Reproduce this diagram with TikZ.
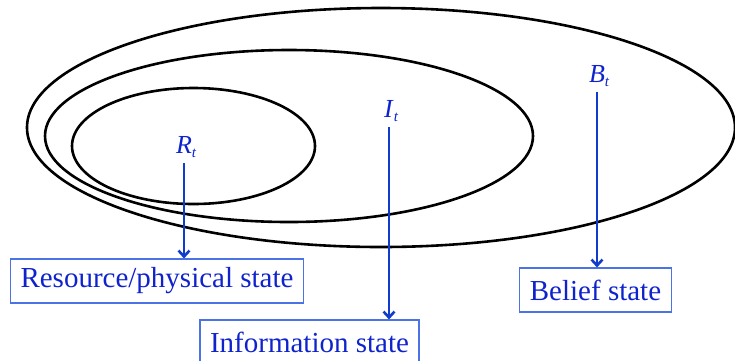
\documentclass[tikz,border=0pt]{standalone}
\usepackage{fontspec}
\setmainfont{Liberation Serif}
\usetikzlibrary{arrows.meta}
\definecolor{txtblue}{RGB}{15,35,205}
\definecolor{arrblue}{RGB}{15,60,205}
\definecolor{boxblue}{RGB}{75,115,230}
\newcommand{\statesym}[1]{\textit{#1}\rlap{\raisebox{-0.35ex}{\fontsize{15}{15}\selectfont\textit{t}}}}
\tikzset{
	setline/.style={line width=2.6pt},
	symlbl/.style={text=txtblue,font=\fontsize{26}{30}\selectfont,inner sep=2pt,outer sep=4pt,anchor=base},
	statebox/.style={draw=boxblue,line width=1.1pt,text=txtblue,font=\fontsize{29}{34}\selectfont,minimum height=44pt,inner xsep=10pt,inner ysep=0pt},
	statearrow/.style={draw=arrblue,line width=2.6pt,-{Straight Barb[length=6pt,width=11pt]}}
}
\begin{document}
\begin{tikzpicture}[x=1pt,y=1pt]
		\useasboundingbox (0,0) rectangle (735,-360);
		%Ellipses
		\draw[setline] (381,-127.5) ellipse (354pt and 119.5pt);
		\draw[setline] (289,-136) ellipse (244pt and 86pt);
		\draw[setline] (193.5,-146) ellipse (121.5pt and 58pt);
		%Labels
		\node[symlbl] (Rt) at (184,-153) {\statesym{R}};
		\node[symlbl] (It) at (389,-117) {\statesym{I}};
		\node[symlbl] (Bt) at (597,-82) {\statesym{B}};
		%Boxes
		\node[statebox] (resbox) at (157,-281) {Resource/physical state};
		\node[statebox] (infobox) at (309.5,-342) {Information state};
		\node[statebox] (beliefbox) at (595.5,-290) {Belief state};
		%Arrows
		\draw[statearrow] (Rt) -- (Rt |- resbox.north);
		\draw[statearrow] (It) -- (It |- infobox.north);
		\draw[statearrow] (Bt) -- (Bt |- beliefbox.north);
\end{tikzpicture}
\end{document}
